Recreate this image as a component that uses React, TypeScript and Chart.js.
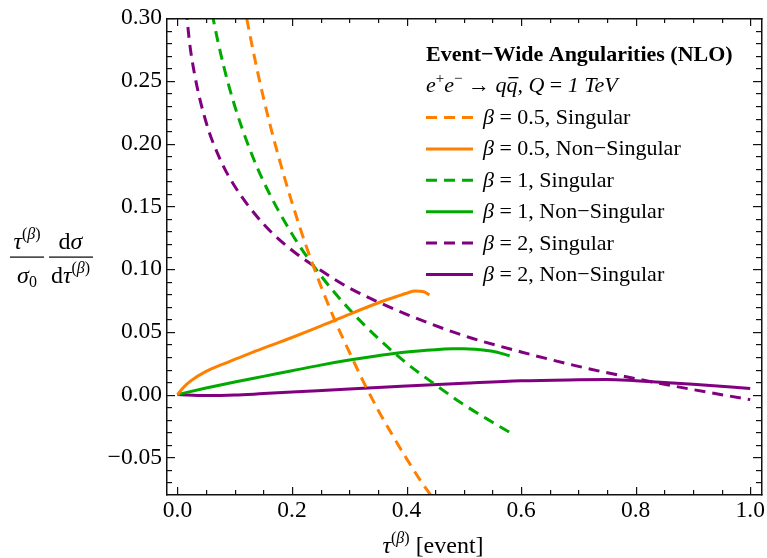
import React, { useEffect, useRef } from "react";
import { Chart, registerables } from "chart.js";

Chart.register(...registerables);

const SERIF = "'Liberation Serif', 'Times New Roman', 'DejaVu Serif', serif";

// ---- data ----
// beta = 0.5
const b05SingTau = [0.11, 0.12, 0.14, 0.16, 0.18, 0.2, 0.225, 0.25, 0.275, 0.3, 0.325, 0.35, 0.375, 0.4, 0.425, 0.45];
const b05SingVal = [0.328, 0.302, 0.257, 0.218, 0.184, 0.153, 0.118, 0.087, 0.059, 0.034, 0.01, -0.012, -0.032, -0.051, -0.069, -0.085];
const b05NonSingTau = [0, 0.01, 0.025, 0.05, 0.075, 0.1, 0.15, 0.2, 0.25, 0.3, 0.35, 0.375, 0.4, 0.415, 0.43, 0.44];
const b05NonSingVal = [0, 0.0055, 0.0115, 0.0185, 0.0235, 0.028, 0.037, 0.0455, 0.0545, 0.064, 0.073, 0.077, 0.0808, 0.0825, 0.082, 0.0795];
// beta = 1
const b1SingTau = [0.05, 0.06, 0.08, 0.1, 0.125, 0.15, 0.2, 0.25, 0.3, 0.35, 0.4, 0.45, 0.5, 0.55, 0.58];
const b1SingVal = [0.332, 0.305, 0.263, 0.23, 0.197, 0.17, 0.128, 0.095, 0.068, 0.045, 0.025, 0.008, -0.008, -0.022, -0.03];
const b1NonSingTau = [0, 0.05, 0.1, 0.15, 0.2, 0.25, 0.3, 0.35, 0.4, 0.45, 0.48, 0.5, 0.52, 0.55, 0.58];
const b1NonSingVal = [0, 0.0052, 0.01, 0.0145, 0.019, 0.0235, 0.0275, 0.031, 0.034, 0.0358, 0.0365, 0.0366, 0.0362, 0.0345, 0.031];
// beta = 2
const b2SingTau = [0.01, 0.02, 0.03, 0.05, 0.075, 0.1, 0.15, 0.2, 0.25, 0.3, 0.4, 0.5, 0.6, 0.7, 0.8, 0.9, 1.0];
const b2SingVal = [0.336, 0.285, 0.255, 0.217, 0.187, 0.166, 0.136, 0.115, 0.099, 0.085, 0.064, 0.047, 0.034, 0.0225, 0.0127, 0.004, -0.004];
const b2NonSingTau = [0, 0.05, 0.1, 0.15, 0.2, 0.3, 0.4, 0.5, 0.6, 0.7, 0.75, 0.8, 0.9, 1.0];
const b2NonSingVal = [0, -0.0008, -0.0004, 0.0008, 0.002, 0.0045, 0.0068, 0.009, 0.011, 0.0118, 0.012, 0.011, 0.0083, 0.0048];

const seriesLabels = [
  "β = 0.5, Singular",
  "β = 0.5, Non−Singular",
  "β = 1, Singular",
  "β = 1, Non−Singular",
  "β = 2, Singular",
  "β = 2, Non−Singular",
];
const seriesColors = ["#FF8000", "#FF8000", "#00AA00", "#00AA00", "#800080", "#800080"];
const seriesDashed = [true, false, true, false, true, false];

const xTickValues = [0, 0.2, 0.4, 0.6, 0.8, 1.0];
const xTickLabels = ["0.0", "0.2", "0.4", "0.6", "0.8", "1.0"];
const yTickValues = [-0.05, 0, 0.05, 0.1, 0.15, 0.2, 0.25, 0.3];
const yTickLabels = ["−0.05", "0.00", "0.05", "0.10", "0.15", "0.20", "0.25", "0.30"];

const legendTitle = "Event−Wide Angularities (NLO)";

const X_MIN = -0.02, X_MAX = 1.02, Y_MIN = -0.08, Y_MAX = 0.3;
const DASH = [11, 7];

const R = (s: number) => `${s}px ${SERIF}`;
const I = (s: number) => `italic ${s}px ${SERIF}`;
const B = (s: number) => `bold ${s}px ${SERIF}`;

type Run = { t: string; f: string; dy?: number; over?: boolean };

function runsWidth(ctx: CanvasRenderingContext2D, runs: Run[]) {
  let w = 0;
  for (const r of runs) {
    ctx.font = r.f;
    w += ctx.measureText(r.t).width;
  }
  return w;
}

function drawRuns(ctx: CanvasRenderingContext2D, x: number, y: number, runs: Run[]) {
  for (const r of runs) {
    ctx.font = r.f;
    ctx.fillText(r.t, x, y + (r.dy || 0));
    const w = ctx.measureText(r.t).width;
    if (r.over) ctx.fillRect(x + 2, y - 15, w - 1, 1.3);
    x += w;
  }
  return x;
}

function drawCentered(ctx: CanvasRenderingContext2D, cx: number, y: number, runs: Run[]) {
  const w = runsWidth(ctx, runs);
  drawRuns(ctx, cx - w / 2, y, runs);
}

const supBeta = (dy: number, s = 16): Run[] => [
  { t: "(", f: R(s), dy },
  { t: "β", f: I(s), dy },
  { t: ")", f: R(s), dy },
];

function drawFrame(ctx: CanvasRenderingContext2D, xs: any, ys: any) {
  const L = Math.round(Number(xs.getPixelForValue(X_MIN)));
  const Rc = Math.round(Number(xs.getPixelForValue(X_MAX))) - 1;
  const T = Math.round(Number(ys.getPixelForValue(Y_MAX)));
  const Bc = Math.round(Number(ys.getPixelForValue(Y_MIN))) - 1;
  ctx.save();
  ctx.fillStyle = "#111111";
  const W = 1.5;
  ctx.fillRect(L, T, Rc - L + W, W);
  ctx.fillRect(L, Bc, Rc - L + W, W);
  ctx.fillRect(L, T, W, Bc - T + W);
  ctx.fillRect(Rc, T, W, Bc - T + W);
  for (let k = 0; k <= 20; k++) {
    const len = k % 4 === 0 ? 7 : 4;
    const px = Math.round(Number(xs.getPixelForValue(k * 0.05)));
    ctx.fillRect(px, Bc - len, 1.2, len);
    ctx.fillRect(px, T + 1, 1.2, len);
  }
  for (let k = -7; k <= 30; k++) {
    const len = k % 5 === 0 ? 8 : 5;
    const py = Math.round(Number(ys.getPixelForValue(k * 0.01)));
    ctx.fillRect(L + 1, py, len, 1.2);
    ctx.fillRect(Rc - len, py, len, 1.2);
  }
  ctx.restore();
}

function drawTexts(ctx: CanvasRenderingContext2D) {
  ctx.save();
  ctx.fillStyle = "#000";
  ctx.textBaseline = "alphabetic";
  ctx.textAlign = "left";
  const lx = 426;
  ctx.font = B(22);
  ctx.fillText(legendTitle, lx, 61);
  drawRuns(ctx, lx, 92, [
    { t: "e", f: I(22) },
    { t: "+", f: R(15), dy: -9 },
    { t: "e", f: I(22) },
    { t: "−", f: R(15), dy: -9 },
    { t: " → ", f: R(22) },
    { t: "q", f: I(22) },
    { t: "q", f: I(22), over: true },
    { t: ", ", f: I(22) },
    { t: "Q", f: I(22) },
    { t: " = ", f: R(22) },
    { t: "1 TeV", f: I(22) },
  ]);
  for (let i = 0; i < seriesLabels.length; i++) {
    const yy = 117.5 + i * 31.4;
    ctx.save();
    ctx.strokeStyle = seriesColors[i];
    ctx.lineWidth = 3;
    ctx.setLineDash(seriesDashed[i] ? DASH : []);
    ctx.beginPath();
    ctx.moveTo(lx, yy);
    ctx.lineTo(lx + 47, yy);
    ctx.stroke();
    ctx.restore();
    const lab = seriesLabels[i];
    drawRuns(ctx, lx + 57, yy + 6.5, [
      { t: lab.slice(0, 1), f: I(22) },
      { t: lab.slice(1), f: R(22) },
    ]);
  }

  // y-axis title
  drawCentered(ctx, 27, 249, [{ t: "τ", f: I(24) }, ...supBeta(-10)]);
  ctx.fillRect(10, 256.5, 34, 1.2);
  drawCentered(ctx, 27, 283, [{ t: "σ", f: I(24) }, { t: "0", f: R(16), dy: 4 }]);
  drawCentered(ctx, 70.5, 249, [{ t: "d", f: R(24) }, { t: "σ", f: I(24) }]);
  ctx.fillRect(49, 256.5, 44, 1.2);
  drawCentered(ctx, 70.5, 283, [{ t: "d", f: R(24) }, { t: "τ", f: I(24) }, ...supBeta(-10)]);

  // x-axis title
  drawCentered(ctx, 433, 553, [{ t: "τ", f: I(24) }, ...supBeta(-10), { t: " [event]", f: R(24) }]);
  ctx.restore();
}

const decorPlugin = {
  id: "decor",
  afterDraw(chart: any) {
    const ctx: CanvasRenderingContext2D = chart.ctx;
    drawTexts(ctx);
    drawFrame(ctx, chart.scales.x, chart.scales.y);
  },
};

function toPts(xs: number[], ys: number[]) {
  return xs.map((x, i) => ({ x, y: ys[i] }));
}

export default function App() {
  const ref = useRef<HTMLCanvasElement>(null);
  useEffect(() => {
    const pairs = [
      toPts(b05SingTau, b05SingVal),
      toPts(b05NonSingTau, b05NonSingVal),
      toPts(b1SingTau, b1SingVal),
      toPts(b1NonSingTau, b1NonSingVal),
      toPts(b2SingTau, b2SingVal),
      toPts(b2NonSingTau, b2NonSingVal),
    ];
    const chart = new Chart(ref.current as HTMLCanvasElement, {
      type: "line",
      data: {
        datasets: pairs.map((d, i) => ({
          label: seriesLabels[i],
          data: d,
          borderColor: seriesColors[i],
          backgroundColor: seriesColors[i],
          borderWidth: 3,
          borderDash: seriesDashed[i] ? DASH : [],
          pointRadius: 0,
          fill: false,
          cubicInterpolationMode: "monotone",
          clip: 0,
        })) as any,
      },
      options: {
        animation: false,
        responsive: false,
        layout: { padding: { top: 18, right: 5, left: 0, bottom: 0 } },
        plugins: { legend: { display: false }, tooltip: { enabled: false } },
        scales: {
          x: {
            type: "linear",
            min: X_MIN,
            max: X_MAX,
            grid: { display: false, drawTicks: false },
            border: { display: false },
            afterBuildTicks: (s: any) => {
              s.ticks = xTickValues.map((v) => ({ value: v }));
            },
            ticks: {
              callback: (_v: any, i: number) => xTickLabels[i],
              font: { family: SERIF, size: 23.5 },
              color: "#000",
              padding: 2,
              maxRotation: 0,
              autoSkip: false,
            },
            afterFit: (s: any) => {
              s.height = 63;
            },
          },
          y: {
            type: "linear",
            min: Y_MIN,
            max: Y_MAX,
            grid: { display: false, drawTicks: false },
            border: { display: false },
            afterBuildTicks: (s: any) => {
              s.ticks = yTickValues.map((v) => ({ value: v }));
            },
            ticks: {
              callback: (_v: any, i: number) => yTickLabels[i],
              font: { family: SERIF, size: 23.5 },
              color: "#000",
              padding: 4,
              autoSkip: false,
            },
            afterFit: (s: any) => {
              s.width = 166;
            },
          },
        },
      } as any,
      plugins: [decorPlugin],
    });
    return () => chart.destroy();
  }, []);
  return (
    <div style={{ position: "absolute", left: 0, top: 0, width: 767, height: 558, background: "#fff" }}>
      <canvas ref={ref} width={767} height={558} style={{ display: "block", width: 767, height: 558 }} />
    </div>
  );
}
